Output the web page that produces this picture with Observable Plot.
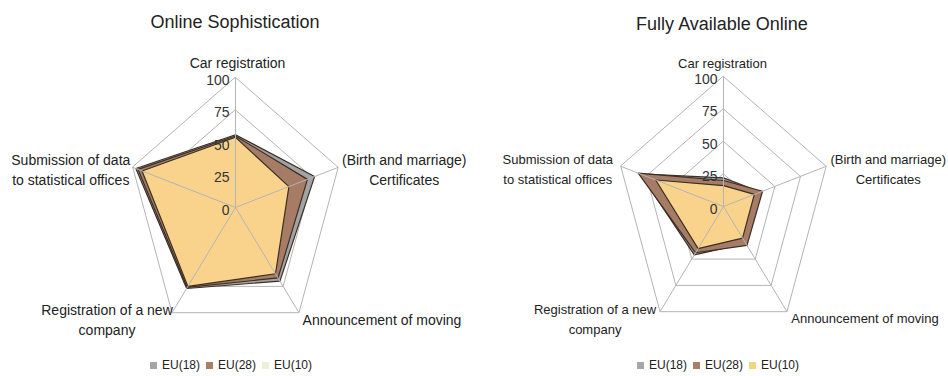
<!DOCTYPE html>
<html><head><meta charset="utf-8">
<script src="https://cdn.jsdelivr.net/npm/d3@7"></script>
<script src="https://cdn.jsdelivr.net/npm/@observablehq/plot@0.6"></script>
<style>
body{margin:0;background:#fff;}
#wrap{position:relative;width:948px;height:376px;font-family:"Liberation Sans",Arial,sans-serif;color:#222;overflow:hidden}
.panel{position:absolute;top:0;width:474px;height:376px}
.title{position:absolute;top:12px;font-size:18px;line-height:20px;white-space:nowrap;transform:translateX(-50%)}
.plot{position:absolute;top:40px;left:0}
.legend{position:absolute;top:358px;font-size:12px;line-height:14px;white-space:nowrap;display:flex;align-items:center}
.legend .item{display:flex;align-items:center;margin-right:6px}
.legend .sw{display:inline-block;width:7px;height:7px;margin-right:5px}
</style>
</head><body>
<div id="wrap"></div>
<script>
const axisLabels = ["Car registration", "(Birth and marriage)\nCertificates", "Announcement of moving", "Registration of a new\ncompany", "Submission of data\nto statistical offices"];
const seriesNames = ["EU(18)", "EU(28)", "EU(10)"];
const tickValues = [0, 25, 50, 75, 100];
const chartTitles = ["Online Sophistication", "Fully Available Online"];

// Online Sophistication
const sophEU18 = [56, 77, 70, 77, 97];
const sophEU28 = [55, 70, 67, 76, 95];
const sophEU10 = [54, 52, 63, 75, 91];
// Fully Available Online
const availEU18 = [22, 36, 35, 46, 81];
const availEU28 = [20, 38, 37, 44, 83];
const availEU10 = [16, 30, 30, 40, 66];

const seriesColors = ["#a3a3a5", "#a67c66", "#f9d38c"];
const legendColorsLeft = ["#a6a6a6", "#a88068", "#eef0d6"];
const legendColorsRight = ["#a6a6a6", "#a88068", "#f5d47f"];

function radar(vals, {cx, cy, rx, ry, labelSize, offsets}) {
  const n = axisLabels.length;
  const ang = i => i * 2 * Math.PI / n;
  const pt = (i, v) => ({x: v * Math.sin(ang(i)), y: v * Math.cos(ang(i))});
  const polys = vals.map((arr, s) => arr.map((v, i) => ({series: seriesNames[s], ...pt(i, v)})));
  const rings = tickValues.filter(t => t > 0).flatMap(t => axisLabels.map((_, i) => ({ring: t, ...pt(i, t)})));
  const spokes = axisLabels.map((a, i) => ({label: a, ...pt(i, 100)}));
  const marks = [
    Plot.line(rings, {x: "x", y: "y", z: "ring", curve: "linear-closed", stroke: "#b4b4b4", strokeWidth: 1}),
    ...polys.map((p, s) => Plot.line(p, {x: "x", y: "y", curve: "linear-closed", fill: seriesColors[s], stroke: "#3b2f23", strokeWidth: 1.2})),
    Plot.link(spokes, {x1: 0, y1: 0, x2: "x", y2: "y", stroke: "#b4b4b4", strokeWidth: 1}),
    Plot.text(tickValues, {x: 0, y: d => d, text: d => String(d), textAnchor: "end", dx: -6, dy: 3, fontSize: 14, fill: "#333"}),
    ...spokes.map((s, i) => Plot.text([s], {x: "x", y: "y", text: "label", dx: offsets[i][0], dy: offsets[i][1], fontSize: labelSize, lineHeight: 20 / labelSize, fill: "#222"}))
  ];
  return Plot.plot({
    width: 474, height: 300, margin: 0,
    x: {axis: null, domain: [-100, 100], range: [cx - rx, cx + rx]},
    y: {axis: null, domain: [-100, 100], range: [cy + ry, cy - ry]},
    style: {overflow: "visible", background: "transparent", fontFamily: "Liberation Sans, Arial, sans-serif"},
    marks
  });
}

function panel(left, title, titleX, titleTop, vals, geo, legendLeft, legendColors) {
  const p = document.createElement("div");
  p.className = "panel";
  p.style.left = left + "px";
  const t = document.createElement("div");
  t.className = "title";
  t.style.left = titleX + "px";
  t.style.top = titleTop + "px";
  t.textContent = title;
  p.appendChild(t);
  const pl = document.createElement("div");
  pl.className = "plot";
  pl.appendChild(radar(vals, geo));
  p.appendChild(pl);
  const lg = document.createElement("div");
  lg.className = "legend";
  lg.style.left = legendLeft + "px";
  seriesNames.forEach((name, i) => {
    const it = document.createElement("span");
    it.className = "item";
    const sw = document.createElement("span");
    sw.className = "sw";
    sw.style.background = legendColors[i];
    it.appendChild(sw);
    it.appendChild(document.createTextNode(name));
    lg.appendChild(it);
  });
  p.appendChild(lg);
  document.getElementById("wrap").appendChild(p);
}

panel(0, chartTitles[0], 235, 12, [sophEU18, sophEU28, sophEU10],
  {cx: 235, cy: 167, rx: 108, ry: 130, labelSize: 14, offsets: [[2, -16], [66, 1], [83, 6], [-65, 6], [-62, 1]]},
  150, legendColorsLeft);
panel(474, chartTitles[1], 248, 14, [availEU18, availEU28, availEU10],
  {cx: 249, cy: 166, rx: 108, ry: 130, labelSize: 13, offsets: [[-1, -15], [62, 1], [78, 5], [-65, 6], [-63, 1]]},
  163, legendColorsRight);
</script>
</body></html>
